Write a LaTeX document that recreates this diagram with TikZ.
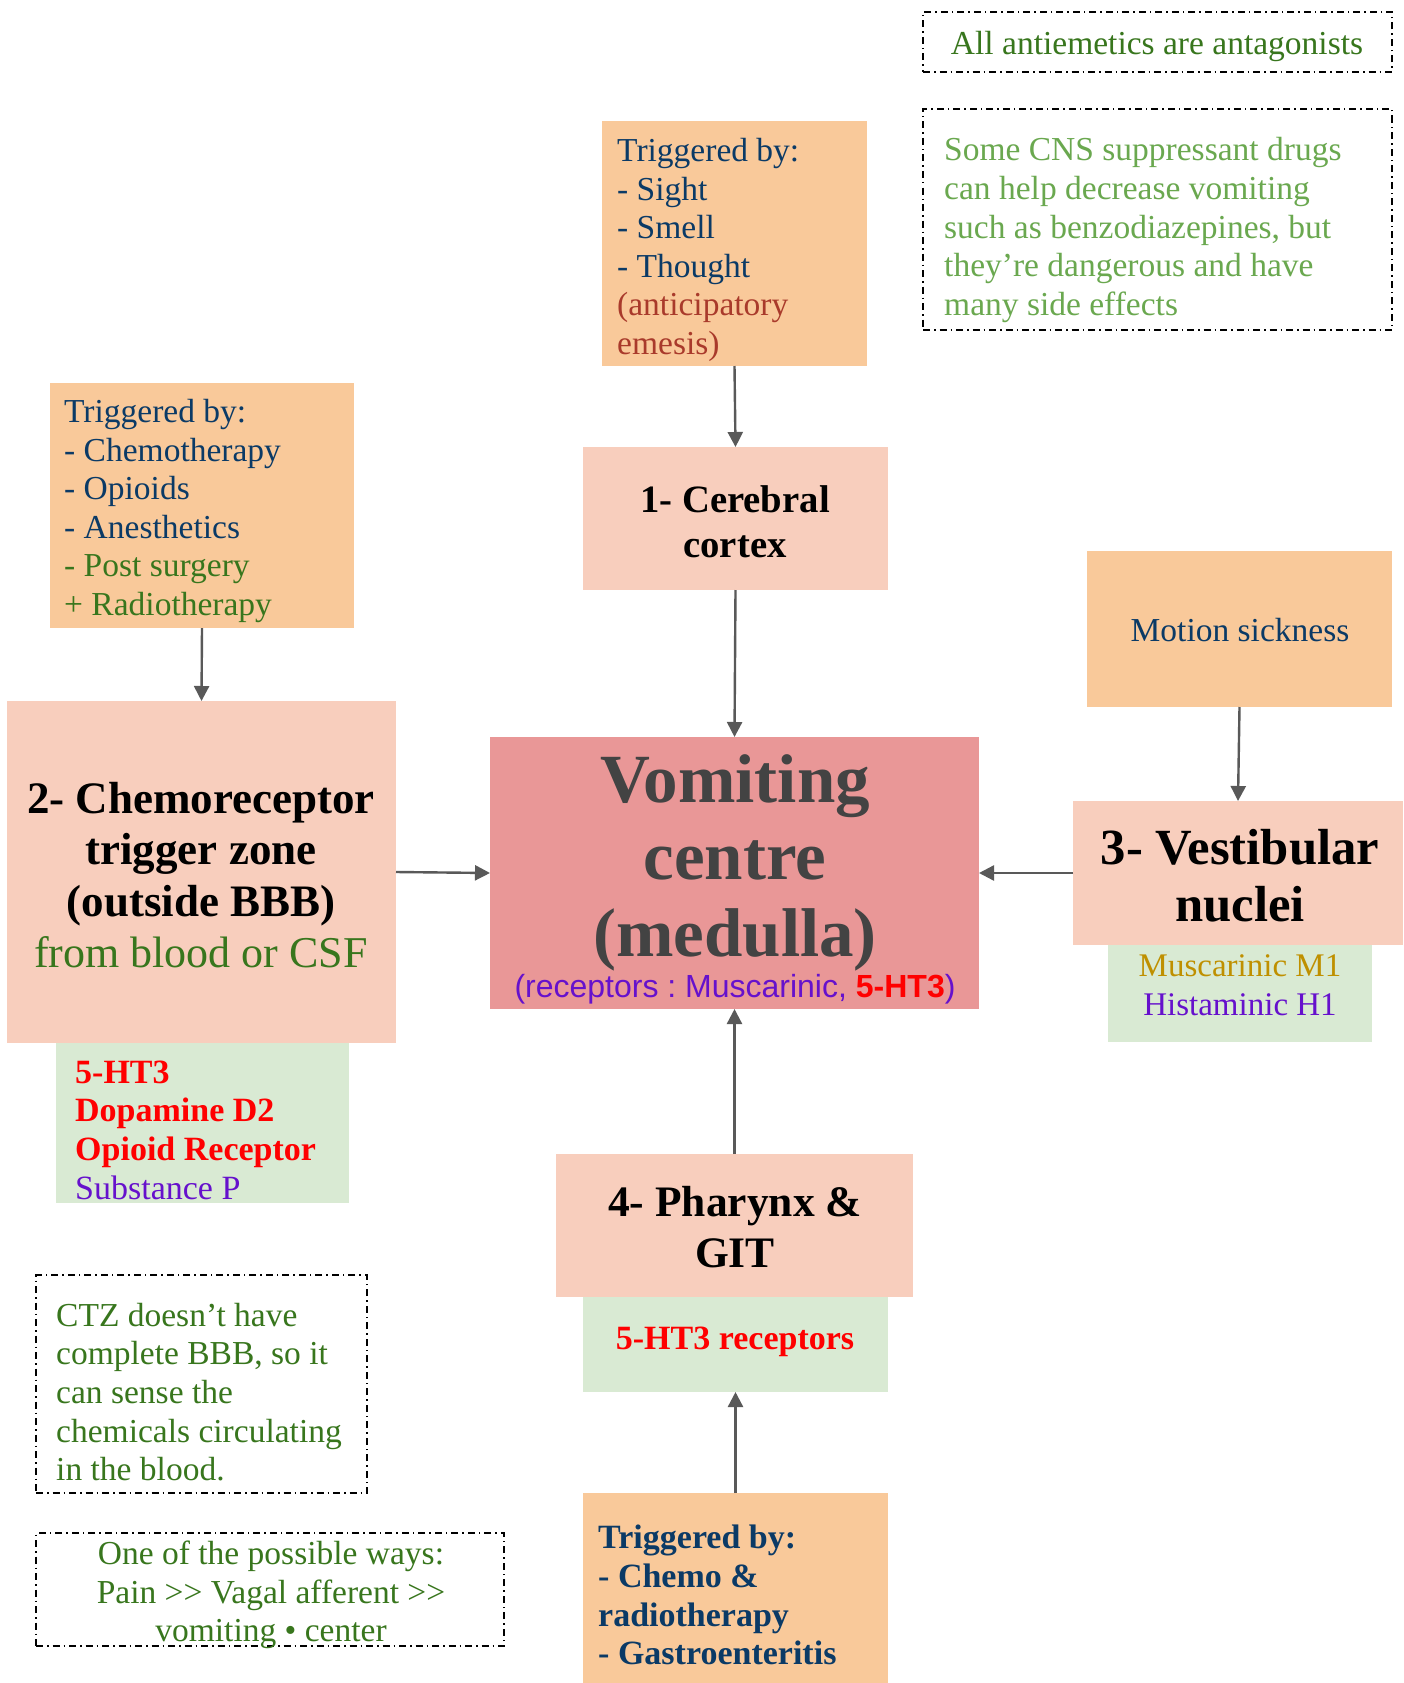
\documentclass[tikz,border=0pt]{standalone}
\usepackage{fontspec}
\setmainfont{Liberation Serif}
\newfontfamily\arialf{Liberation Sans}
\usetikzlibrary{arrows.meta}
\frenchspacing
\definecolor{orbox}{HTML}{F9C99A}
\definecolor{pkbox}{HTML}{F8CEBD}
\definecolor{vcbox}{HTML}{E99797}
\definecolor{gnbox}{HTML}{D9EAD3}
\definecolor{dblue}{HTML}{0B3A66}
\definecolor{dred}{HTML}{A93A2B}
\definecolor{dgreen}{HTML}{38761D}
\definecolor{lgreen}{HTML}{6AA84F}
\definecolor{purp}{HTML}{6611CC}
\definecolor{mustard}{HTML}{BF9000}
\definecolor{dgrey}{HTML}{434343}
\definecolor{arrowc}{HTML}{595959}
\begin{document}
\begin{tikzpicture}[x=1pt,y=-1pt,
  box/.style={inner sep=0pt, outer sep=0pt, anchor=north west, draw=none},
  note/.style={box, draw=black, line width=1.5pt, dash pattern=on 7pt off 4pt on 1.5pt off 4pt},
  conn/.style={draw=arrowc, line width=2.4pt, -{Triangle[length=15pt,width=15pt]}},
  txt/.style={inner sep=0pt, font=\fontsize{33.5}{38.6}\selectfont\frenchspacing},
  btxt/.style={inner sep=0pt, font=\fontsize{34}{38.7}\selectfont\bfseries\frenchspacing}
]
\fill[white] (0,0) rectangle (1403,1683);
\useasboundingbox (0,0) rectangle (1403,1683);

% boxes
\node[box, fill=orbox, minimum width=265pt, minimum height=245pt] (sightbox) at (602,121) {};
\node[box, fill=pkbox, minimum width=305pt, minimum height=143pt] (cortexbox) at (583,447) {};
\node[box, fill=orbox, minimum width=304pt, minimum height=245pt] (chemobox) at (50,383) {};
\node[box, fill=pkbox, minimum width=389pt, minimum height=342pt] (ctzbox) at (7,701) {};
\node[box, fill=gnbox, minimum width=293pt, minimum height=160pt] (ctzgreen) at (56,1043) {};
\node[box, fill=vcbox, minimum width=489pt, minimum height=272pt] (vcbox) at (490,737) {};
\node[box, fill=orbox, minimum width=305pt, minimum height=156pt] (motionbox) at (1087,551) {};
\node[box, fill=pkbox, minimum width=330pt, minimum height=144pt] (vestbox) at (1073,801) {};
\node[box, fill=gnbox, minimum width=264pt, minimum height=97pt] (vestgreen) at (1108,945) {};
\node[box, fill=pkbox, minimum width=357pt, minimum height=143pt] (pharbox) at (556,1154) {};
\node[box, fill=gnbox, minimum width=305pt, minimum height=95pt] (phargreen) at (583,1297) {};
\node[box, fill=orbox, minimum width=305pt, minimum height=190pt] (gitbox) at (583,1493) {};

% notes
\node[note, minimum width=469pt, minimum height=60pt] (allnote) at (923,12) {};
\node[note, minimum width=469pt, minimum height=221pt] (cnsnote) at (923,109) {};
\node[note, minimum width=331pt, minimum height=218pt] (ctznote) at (36,1275) {};
\node[note, minimum width=468pt, minimum height=113pt] (waysnote) at (36,1533) {};

% texts
\node[txt, anchor=west, align=left, text=dblue] (sighttxt) at (617,250)
  {Triggered by:\\- Sight\\- Smell\\- Thought\\\textcolor{dred}{(anticipatory}\\\textcolor{dred}{emesis)}};
\node[txt, anchor=west, align=left, text=dblue] (chemotxt) at (64,511)
  {Triggered by:\\- Chemotherapy\\- Opioids\\- Anesthetics\\\textcolor{dgreen}{- Post surgery}\\\textcolor{dgreen}{+ Radiotherapy}};
\node[inner sep=0pt, align=center, font=\fontsize{38.7}{45}\selectfont\bfseries] (cortextxt) at (735,522)
  {1- Cerebral\\cortex};
\node[inner sep=0pt, align=center, font=\fontsize{45}{51.5}\selectfont\bfseries] (ctztxt) at (201,875)
  {2- Chemoreceptor\\trigger zone\\(outside BBB)\\\textcolor{dgreen}{\mdseries\fontsize{44}{51.5}\selectfont from blood or CSF}};
\node[inner sep=0pt, align=center, text=dgrey, font=\fontsize{69}{77}\selectfont\bfseries] (vctxt) at (735,863)
  {Vomiting\\centre\\(medulla)};
\node[inner sep=0pt, text=purp, font=\arialf\fontsize{32}{38}\selectfont\frenchspacing] (vcsub) at (735,989)
  {(receptors : Muscarinic, \textcolor{red}{\bfseries 5-HT3})};
\node[txt, text=dblue] (motiontxt) at (1240,630) {Motion sickness};
\node[inner sep=0pt, align=center, font=\fontsize{50.7}{57}\selectfont\bfseries] (vesttxt) at (1240,876)
  {3- Vestibular\\nuclei};
\node[txt, align=center, font=\fontsize{33}{38.6}\selectfont] (vestgtxt) at (1240,985)
  {\textcolor{mustard}{Muscarinic M1}\\\textcolor{purp}{Histaminic H1}};
\node[btxt, anchor=west, align=left, text=red] (ctzgtxt) at (75,1130)
  {5-HT3\\Dopamine D2\\Opioid Receptor\\\textcolor{purp}{\mdseries Substance P}};
\node[inner sep=0pt, align=center, font=\fontsize{43.5}{51}\selectfont\bfseries] (phartxt) at (735,1227)
  {4- Pharynx \&\\GIT};
\node[btxt, text=red] (phargtxt) at (735,1342) {5-HT3 receptors};
\node[btxt, anchor=west, align=left, text=dblue] (gittxt) at (598,1595)
  {Triggered by:\\- Chemo \&\\radiotherapy\\- Gastroenteritis};
\node[txt, anchor=west, align=left, text=dgreen] (ctznotetxt) at (56,1392)
  {CTZ doesn’t have\\complete BBB, so it\\can sense the\\chemicals circulating\\in the blood.};
\node[txt, align=center, text=dgreen] (waystxt) at (271,1595)
  {One of the possible ways:\\Pain >\kern0pt> Vagal afferent >\kern0pt>\\vomiting • center};
\node[txt, text=dgreen] (alltxt) at (1157,46) {All antiemetics are antagonists};
\node[txt, anchor=west, align=left, text=lgreen] (cnstxt) at (944,230)
  {Some CNS suppressant drugs\\can help decrease vomiting\\such as benzodiazepines, but\\they’re dangerous and have\\many side effects};

% connectors
\draw[conn] (sightbox.south) -- (cortexbox.north);
\draw[conn] (cortexbox.south) -- (vcbox.north);
\draw[conn] (chemobox.south) -- (ctzbox.north);
\draw[conn] (ctzbox.east) -- (vcbox.west);
\draw[conn] (vestbox.west) -- (vcbox.east);
\draw[conn] (motionbox.south) -- (vestbox.north);
\draw[conn] (pharbox.north) -- (vcbox.south);
\draw[conn] (gitbox.north) -- (phargreen.south);
\end{tikzpicture}
\end{document}
